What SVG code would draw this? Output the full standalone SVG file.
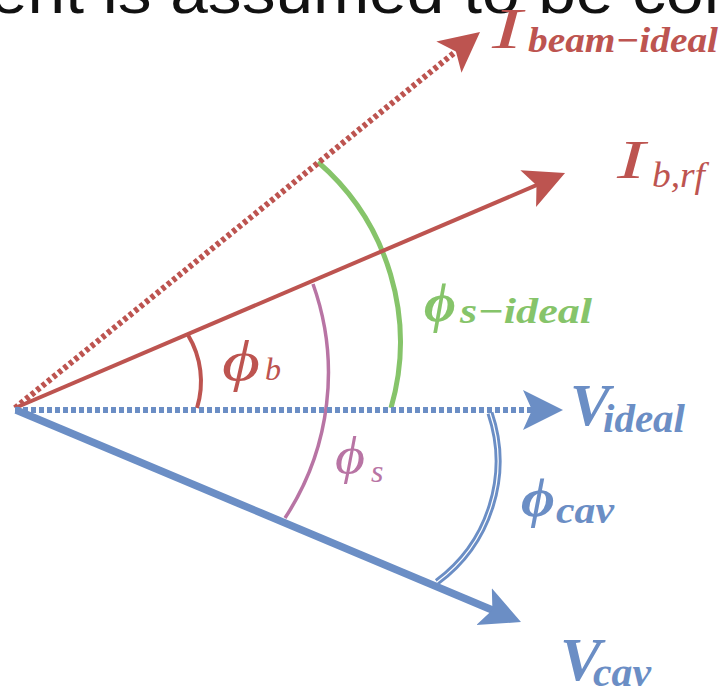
<svg xmlns="http://www.w3.org/2000/svg" width="723" height="687" viewBox="0 0 723 687">
<style>
.mi{font-family:"Liberation Serif","DejaVu Serif",serif;font-style:italic}
.bd{font-weight:bold}
.red{fill:#bd5450}
.blue{fill:#6b8ec5}
.green{fill:#86c46a}
.pink{fill:#b874a4}
.top{font-family:"Liberation Sans",Arial,sans-serif;fill:#111}
</style>
<defs>
<linearGradient id="base" x1="0" y1="0" x2="1" y2="0">
<stop offset="0" stop-color="#c04e6e"/>
<stop offset="1" stop-color="#7e4c86"/>
</linearGradient>
<marker id="ahR" markerUnits="userSpaceOnUse" markerWidth="44" markerHeight="44" viewBox="0 0 44 44" refX="14" refY="20" orient="auto">
<path d="M0,0 L40,20 L0,40 L9,20 Z" fill="#bd5450"/>
</marker>
<marker id="ahB" markerUnits="userSpaceOnUse" markerWidth="44" markerHeight="44" viewBox="0 0 44 44" refX="14" refY="20" orient="auto">
<path d="M0,0 L40,20 L0,40 L9,20 Z" fill="#6b8ec5"/>
</marker>
</defs>
<text class="top" x="-10" y="13" font-size="62" textLength="770" lengthAdjust="spacingAndGlyphs">ent is assumed to be cont</text>
<line id="baseline" x1="0" y1="678" x2="723" y2="678" stroke="url(#base)" stroke-width="4"/>
<g id="connectors" fill="none">
<path id="arc-phib" d="M197,408 A90,90 0 0 0 188,335" stroke="#bd5450" stroke-width="4"/>
<path id="arc-phis" d="M313,284 A264,264 0 0 1 285,518" stroke="#b874a4" stroke-width="3.5"/>
<path id="arc-phisideal" d="M318,162 A238,238 0 0 1 391,408" stroke="#86c46a" stroke-width="5"/>
<g id="arc-phicav">
<path d="M490,413 A150,150 0 0 1 437,582" stroke="#6b8ec5" stroke-width="7"/>
<path d="M490,413 A150,150 0 0 1 437,582" stroke="#ffffff" stroke-width="1.2"/>
</g>
<line id="I-beam-ideal" x1="15" y1="408" x2="459.8" y2="48.3" stroke="#bd5450" stroke-width="6" stroke-dasharray="4,3" marker-end="url(#ahR)"/>
<line id="I-brf" x1="15" y1="408" x2="541.1" y2="183.2" stroke="#bd5450" stroke-width="4" marker-end="url(#ahR)"/>
<line id="V-ideal" x1="15" y1="410" x2="537" y2="410" stroke="#6b8ec5" stroke-width="6" stroke-dasharray="5,3" marker-end="url(#ahB)"/>
<line id="V-cav" x1="16" y1="410" x2="497" y2="612" stroke="#6b8ec5" stroke-width="7.5" marker-end="url(#ahB)"/>
</g>
<g id="label-Ibeam"><text class="mi red" y="48" font-size="58"><tspan x="492" textLength="30" lengthAdjust="spacingAndGlyphs">I</tspan><tspan class="bd" x="528" font-size="36" dy="4" textLength="190" lengthAdjust="spacingAndGlyphs">beam−ideal</tspan></text></g>
<g id="label-Ibrf"><text class="mi red" y="178" font-size="54"><tspan x="617" textLength="28" lengthAdjust="spacingAndGlyphs">I</tspan><tspan x="652" font-size="36" dy="9" textLength="53" lengthAdjust="spacingAndGlyphs">b,rf</tspan></text></g>
<g id="label-phisideal"><text class="mi green" y="321"><tspan class="bd" x="424" font-size="54" textLength="32" lengthAdjust="spacingAndGlyphs">ϕ</tspan><tspan class="bd" x="460" font-size="36" dy="2" textLength="132" lengthAdjust="spacingAndGlyphs">s−ideal</tspan></text></g>
<g id="label-Videal"><text class="mi bd blue" x="570" y="425" font-size="60">V<tspan x="603" font-size="40" dy="7" textLength="82" lengthAdjust="spacingAndGlyphs">ideal</tspan></text></g>
<g id="label-phib"><text class="mi red" y="380"><tspan x="222" font-size="56" textLength="38" lengthAdjust="spacingAndGlyphs">ϕ</tspan><tspan x="265" font-size="32">b</tspan></text></g>
<g id="label-phis"><text class="mi pink" y="473"><tspan x="335" font-size="52" textLength="30" lengthAdjust="spacingAndGlyphs">ϕ</tspan><tspan x="371" font-size="32" dy="9">s</tspan></text></g>
<g id="label-phicav"><text class="mi blue" y="516"><tspan class="bd" x="521" font-size="54" textLength="34" lengthAdjust="spacingAndGlyphs">ϕ</tspan><tspan class="bd" x="556" font-size="38" dy="7" textLength="58" lengthAdjust="spacingAndGlyphs">cav</tspan></text></g>
<g id="label-Vcav"><text class="mi bd blue" x="560" y="680" font-size="62">V<tspan x="593" font-size="40" dy="6" textLength="58" lengthAdjust="spacingAndGlyphs">cav</tspan></text></g>
</svg>
